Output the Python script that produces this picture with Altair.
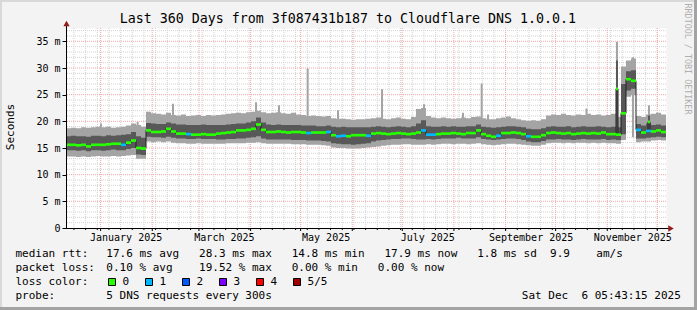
import altair as alt
import pandas as pd

# ---------------- data (3-day bins, 360 days ending Sat Dec 6 2025 05:43:15) ----------------
light_lo = [
    13.4, 13.4, 13.3, 13.4, 13.3, 13.4, 13.5, 13.4, 13.4, 13.5,
    13.4, 13.5, 13.6, 13.7, 13.0, 13.0, 16.2, 16.1, 16.2, 16.1,
    16.2, 16.0, 15.9, 15.9, 15.8, 15.8, 15.9, 15.8, 15.8, 15.8,
    15.8, 15.8, 15.9, 15.9, 15.9, 15.9, 16.0, 16.0, 16.1, 15.9,
    15.8, 15.8, 15.8, 15.8, 15.8, 15.7, 15.7, 15.7, 15.6, 15.6,
    15.6, 15.5, 15.4, 15.1, 15.0, 15.0, 14.9, 14.9, 14.9, 15.0,
    15.1, 15.2, 15.3, 15.4, 15.5, 15.6, 15.6, 15.7, 15.7, 15.6,
    15.6, 15.6, 15.7, 15.6, 15.7, 15.8, 15.8, 15.7, 15.8, 15.8,
    15.7, 15.8, 15.9, 15.7, 15.6, 15.5, 15.6, 15.7, 15.8, 15.8,
    15.7, 15.6, 15.5, 15.4, 15.4, 15.6, 15.9, 16.0, 16.0, 15.9,
    16.0, 15.9, 16.0, 16.0, 15.9, 16.0, 15.9, 16.0, 15.9, 15.9,
    15.8, 16.5, 24.6, 24.9, 16.1, 16.2, 16.2, 16.4, 16.5, 16.4,
]
dark_lo = [
    14.6, 14.6, 14.5, 14.6, 14.4, 14.6, 14.6, 14.5, 14.6, 14.7,
    14.6, 14.6, 14.8, 15.0, 13.8, 13.7, 17.1, 17.0, 17.0, 16.9,
    17.1, 16.9, 16.8, 16.8, 16.7, 16.7, 16.8, 16.7, 16.7, 16.7,
    16.6, 16.6, 16.7, 16.7, 16.8, 16.8, 16.9, 17.0, 17.2, 16.8,
    16.6, 16.6, 16.6, 16.6, 16.6, 16.5, 16.5, 16.5, 16.4, 16.4,
    16.4, 16.3, 16.2, 15.9, 15.8, 15.7, 15.7, 15.6, 15.7, 15.8,
    15.9, 16.2, 16.4, 16.5, 16.6, 16.7, 16.7, 16.8, 16.8, 16.7,
    16.6, 16.6, 16.7, 16.6, 16.7, 16.8, 16.8, 16.8, 16.9, 16.8,
    16.8, 16.8, 17.0, 16.7, 16.6, 16.5, 16.6, 16.7, 16.8, 16.8,
    16.7, 16.5, 16.2, 16.1, 16.1, 16.3, 16.6, 16.6, 16.7, 16.6,
    16.6, 16.5, 16.6, 16.7, 16.6, 16.6, 16.6, 16.7, 16.5, 16.6,
    16.5, 17.6, 25.8, 26.1, 16.8, 16.8, 16.9, 17.0, 17.1, 17.0,
]
median = [
    15.6, 15.6, 15.5, 15.6, 15.3, 15.6, 15.6, 15.6, 15.7, 15.8,
    15.8, 15.6, 16.0, 16.4, 15.0, 14.9, 18.3, 18.0, 18.0, 18.1,
    18.6, 18.1, 17.7, 17.7, 17.6, 17.5, 17.5, 17.6, 17.5, 17.5,
    17.7, 17.8, 17.9, 18.0, 18.3, 18.3, 18.4, 18.6, 19.4, 18.4,
    18.0, 18.0, 18.1, 18.0, 17.9, 18.0, 18.0, 17.9, 17.8, 17.9,
    17.9, 17.9, 18.0, 17.4, 17.2, 17.3, 17.2, 17.4, 17.4, 17.4,
    17.3, 17.7, 17.8, 17.7, 17.6, 17.7, 17.8, 17.7, 17.6, 17.7,
    17.9, 18.3, 17.5, 17.5, 17.6, 17.7, 17.7, 17.8, 17.7, 17.6,
    17.8, 17.8, 18.3, 17.6, 17.3, 17.1, 17.3, 17.8, 17.8, 17.9,
    17.8, 17.6, 17.2, 17.1, 17.1, 17.4, 17.8, 17.9, 17.8, 17.7,
    17.8, 17.6, 17.7, 17.8, 17.7, 17.8, 17.7, 17.9, 17.6, 17.6,
    17.5, 21.5, 27.9, 27.6, 18.4, 17.9, 18.2, 18.1, 18.3, 18.0,
]
dark_hi = [
    17.2, 17.3, 17.2, 17.2, 17.1, 17.3, 17.3, 17.2, 17.4, 17.3,
    17.4, 17.5, 17.6, 18.0, 17.2, 16.9, 19.7, 19.6, 19.5, 19.5,
    19.8, 19.6, 19.4, 19.4, 19.3, 19.3, 19.3, 19.4, 19.3, 19.3,
    19.3, 19.3, 19.4, 19.5, 19.6, 19.6, 19.8, 20.0, 20.7, 19.8,
    19.4, 19.3, 19.4, 19.3, 19.3, 19.3, 19.3, 19.2, 19.2, 19.2,
    19.1, 19.1, 19.2, 19.0, 18.9, 19.0, 18.9, 18.9, 18.9, 18.9,
    18.9, 19.0, 19.1, 19.0, 18.9, 19.0, 19.1, 19.0, 18.9, 19.1,
    19.6, 20.2, 19.1, 19.0, 19.0, 19.1, 19.0, 19.1, 19.0, 19.0,
    19.1, 19.1, 19.4, 19.0, 18.9, 18.8, 18.9, 19.0, 19.1, 19.1,
    19.0, 18.9, 18.6, 18.5, 18.5, 18.7, 19.0, 19.1, 19.0, 19.0,
    19.1, 18.9, 19.0, 19.1, 19.0, 19.0, 19.1, 19.0, 18.9, 19.0,
    18.9, 27.0, 29.4, 29.6, 19.5, 19.2, 19.6, 19.3, 19.4, 19.2,
]
light_hi = [
    18.7, 18.8, 18.7, 18.9, 18.8, 18.9, 19.0, 18.9, 19.0, 18.8,
    18.9, 19.0, 19.2, 19.6, 19.3, 19.0, 21.8, 21.5, 21.4, 21.3,
    21.6, 21.2, 21.1, 21.3, 21.0, 21.1, 21.2, 21.0, 21.2, 21.1,
    21.2, 21.3, 21.4, 21.5, 21.6, 21.5, 21.7, 21.8, 22.0, 21.7,
    21.5, 21.6, 21.7, 21.5, 21.4, 21.6, 21.3, 21.2, 21.0, 21.1,
    21.0, 20.9, 21.0, 20.6, 20.5, 20.5, 20.4, 20.3, 20.4, 20.4,
    20.5, 20.6, 20.7, 20.5, 20.4, 20.6, 20.7, 20.5, 20.4, 20.8,
    22.3, 22.5, 21.0, 20.7, 20.6, 20.7, 20.6, 20.5, 20.6, 20.7,
    20.6, 20.8, 20.9, 20.6, 20.4, 20.4, 20.6, 20.7, 20.9, 20.6,
    20.4, 20.2, 20.1, 20.2, 20.1, 20.4, 21.1, 21.3, 21.2, 21.4,
    21.2, 21.1, 21.3, 21.2, 21.4, 21.2, 21.3, 21.1, 21.2, 21.4,
    20.8, 30.3, 31.4, 31.8, 21.0, 20.8, 21.3, 21.4, 21.6, 21.3,
]
loss = [
    0, 0, 0, 0, 0, 0, 0, 0, 0, 0,
    0, 1, 0, 0, 0, 0, 0, 0, 0, 0,
    0, 0, 0, 0, 1, 0, 0, 0, 0, 0,
    0, 0, 0, 0, 0, 0, 0, 0, 0, 0,
    0, 0, 0, 0, 0, 0, 0, 0, 1, 0,
    0, 0, 1, 0, 1, 1, 0, 0, 0, 0,
    1, 0, 0, 0, 0, 0, 0, 0, 0, 0,
    0, 1, 1, 1, 0, 0, 0, 0, 0, 0,
    0, 0, 0, 0, 0, 0, 1, 0, 0, 0,
    0, 0, 1, 0, 0, 0, 0, 0, 0, 0,
    0, 0, 0, 0, 0, 0, 0, 0, 0, 0,
    0, 0, 0, 0, 1, 0, 1, 0, 0, 0,
]

# narrow outlier peaks (day offset from start, top in ms)
spike_day = [20.4, 42.4, 63.6, 113.4, 127.2, 144.4, 162.6, 189.0, 214.2, 237.6,
             248.8, 252.6, 311.7, 330.0, 339.6, 349.2]
spike_top = [19.6, 19.9, 23.3, 23.6, 23.0, 29.9, 22.1, 26.0, 23.2, 21.6,
             27.1, 21.3, 22.4, 34.9, 32.0, 23.0]
dspike_day = [330.0, 349.2]
dspike_lo = [16.8, 17.0]
dspike_hi = [31.4, 21.1]
dspike_med = [26.1, 19.9]

loss_labels = ["0", "1", "2", "3", "4", "5/5"]
loss_colors = ["#26ff00", "#00b8ff", "#0059ff", "#7e00ff", "#ff0000", "#a10000"]

title_text = "Last 360 Days from 3f087431b187 to Cloudflare DNS 1.0.0.1"
rtt_text = "17.6 ms avg   28.3 ms max   14.8 ms min   17.9 ms now   1.8 ms sd  9.9    am/s"
loss_text = "0.10 % avg    19.52 % max   0.00 % min   0.00 % now"
probe_text = "5 DNS requests every 300s"
date_text = "Sat Dec  6 05:43:15 2025"

# ---------------- helpers ----------------
MONO = "DejaVu Sans Mono"
START = pd.Timestamp("2024-12-11 05:43:15")
DAY_MS = 86400000
START_MS = int(START.value // 10**6)
BIN = 3
SPIKE_W = 1.2


def t(day):
    return START_MS + day * DAY_MS


def ms(s):
    return int(pd.Timestamp(s).value // 10**6)


n = len(median)
band = pd.DataFrame({
    "d": [t(BIN * i) for i in range(n)] + [t(BIN * n)],
    "lo": light_lo + [light_lo[-1]],
    "dlo": dark_lo + [dark_lo[-1]],
    "dhi": dark_hi + [dark_hi[-1]],
    "hi": light_hi + [light_hi[-1]],
})

bars = pd.DataFrame({
    "d": [t(BIN * i) for i in range(n)] + [t(d) for d in dspike_day],
    "d2": [t(BIN * (i + 1)) for i in range(n)] + [t(d + SPIKE_W) for d in dspike_day],
    "m1": [m - 0.25 for m in median] + [m - 0.25 for m in dspike_med],
    "m2": [m + 0.25 for m in median] + [m + 0.25 for m in dspike_med],
    "c": [loss_colors[l] for l in loss] + [loss_colors[0]] * len(dspike_day),
})

pts = {BIN * i: median[i] for i in range(n)}
pts[BIN * n] = median[-1]
for d, m in zip(dspike_day, dspike_med):
    b = int(d // BIN)
    pts[d] = m
    pts[d + SPIKE_W] = median[b]
med_line = pd.DataFrame({"d": [t(k) for k in sorted(pts)], "v": [pts[k] for k in sorted(pts)]})

spikes = pd.DataFrame({
    "d": [t(d) for d in spike_day],
    "d2": [t(d + SPIKE_W) for d in spike_day],
    "lo": [17.0] * len(spike_day),
    "hi": spike_top,
})
dspikes = pd.DataFrame({
    "d": [t(d) for d in dspike_day],
    "d2": [t(d + SPIKE_W) for d in dspike_day],
    "lo": dspike_lo,
    "hi": dspike_hi,
})

month_ms = [ms(f"2025-{m:02d}-01") for m in range(1, 13)]
week_ms = [int(x.value // 10**6) for x in pd.date_range("2024-12-16", "2025-12-01", freq="7D")]
label_ms = [ms(f"2025-{m:02d}-16") for m in (1, 3, 5, 7, 9, 11)]

xs = alt.Scale(type="utc", domain=[t(0), t(360)], nice=False)
ys = alt.Scale(domain=[0, 37.5], nice=False, zero=False)
xaxis = alt.Axis(values=label_ms, labelExpr="utcFormat(datum.value, '%B %Y')", ticks=False, domain=False,
                 grid=False, labelFont=MONO, labelFontSize=10, labelColor="black",
                 labelPadding=4, labelFlush=False, labelOverlap=False, title=None)
yaxis = alt.Axis(values=[0, 5, 10, 15, 20, 25, 30, 35],
                 labelExpr="datum.value == 0 ? '0' : datum.value + ' m'",
                 tickSize=4, tickColor="black", domain=False, grid=False, labelFont=MONO,
                 labelFontSize=10, labelColor="black", labelPadding=2, title=None,
                 labelOverlap=False, labelFlush=False)


def X(f):
    return alt.X(f, type="temporal", scale=xs, axis=xaxis)


def Y(f):
    return alt.Y(f, type="quantitative", scale=ys, axis=yaxis)


ONE = pd.DataFrame({"k": [0]})


def label(text, x, y, size=11, align="left", angle=0, color="black"):
    df = pd.DataFrame({"t": [text.replace(" ", "\u00a0")]})
    return alt.Chart(df).mark_text(align=align, baseline="middle", font=MONO, fontSize=size,
                                   angle=angle, color=color).encode(
        text="t:N", x=alt.value(x), y=alt.value(y))


def box(x, x2, y, y2, color, stroke=None):
    kw = dict(color=color)
    if stroke:
        kw.update(stroke=stroke, strokeWidth=1)
    return alt.Chart(ONE).mark_rect(**kw).encode(
        x=alt.value(x), x2=alt.value(x2), y=alt.value(y), y2=alt.value(y2))


GRID = "#D2D2D2"
MGRID = "#F2A7A7"
layers = []
# grid
layers.append(alt.Chart(pd.DataFrame({"v": [v for v in range(1, 38) if v % 5]}))
              .mark_rule(color=GRID, strokeDash=[1, 1], strokeWidth=1).encode(y=Y("v")))
layers.append(alt.Chart(pd.DataFrame({"d": week_ms}))
              .mark_rule(color=GRID, strokeDash=[1, 1], strokeWidth=1).encode(x=X("d")))
layers.append(alt.Chart(pd.DataFrame({"v": [5, 10, 15, 20, 25, 30, 35]}))
              .mark_rule(color=MGRID, strokeDash=[1, 1], strokeWidth=1).encode(y=Y("v")))
layers.append(alt.Chart(pd.DataFrame({"d": month_ms}))
              .mark_rule(color=MGRID, strokeDash=[1, 1], strokeWidth=1).encode(x=X("d")))
# smoke
layers.append(alt.Chart(band).mark_area(interpolate="step-after", color="#A4A4A4")
              .encode(x=X("d"), y=Y("lo"), y2="hi"))
layers.append(alt.Chart(spikes).mark_rect(color="#A4A4A4")
              .encode(x=X("d"), x2="d2", y=Y("lo"), y2="hi"))
layers.append(alt.Chart(band).mark_area(interpolate="step-after", color="#585858")
              .encode(x=X("d"), y=Y("dlo"), y2="dhi"))
layers.append(alt.Chart(dspikes).mark_rect(color="#585858")
              .encode(x=X("d"), x2="d2", y=Y("lo"), y2="hi"))
# median
layers.append(alt.Chart(med_line).mark_line(interpolate="step-after", color="#202020", strokeWidth=1)
              .encode(x=X("d"), y=Y("v")))
layers.append(alt.Chart(bars).mark_rect()
              .encode(x=X("d"), x2="d2", y=Y("m1"), y2="m2", color=alt.Color("c:N", scale=None)))
# axis ticks
layers.append(alt.Chart(pd.DataFrame({"d": week_ms})).mark_rule(color="black")
              .encode(x=X("d"), y=alt.value(200), y2=alt.value(202)))
layers.append(alt.Chart(pd.DataFrame({"d": month_ms})).mark_rule(color="black")
              .encode(x=X("d"), y=alt.value(200), y2=alt.value(203)))
# axis lines + arrows
layers.append(alt.Chart(ONE).mark_rule(color="black", strokeWidth=1)
              .encode(x=alt.value(0.5), y=alt.value(200.5), y2=alt.value(-4)))
layers.append(alt.Chart(ONE).mark_rule(color="black", strokeWidth=1)
              .encode(y=alt.value(200.5), x=alt.value(0), x2=alt.value(604)))
layers.append(alt.Chart(ONE).mark_point(shape="triangle-up", filled=True, size=40, color="#951C1C", opacity=1)
              .encode(x=alt.value(0.5), y=alt.value(-4.5)))
layers.append(alt.Chart(ONE).mark_point(shape="triangle-right", filled=True, size=40, color="#951C1C", opacity=1)
              .encode(x=alt.value(605), y=alt.value(200.5)))
# texts
layers.append(label(title_text, 281.9, -8.7, size=13.3, align="center"))
layers.append(label("Seconds", -55, 99, size=11, align="center", angle=270))
layers.append(label("RRDTOOL / TOBI OETIKER", 621.5, 31, size=8.4, align="center", angle=90, color="#AFAFAF"))
layers.append(label("median rtt:", -50.6, 226.3))
layers.append(label(rtt_text, 40.3, 226.3))
layers.append(label("packet loss:", -50.6, 240.3))
layers.append(label(loss_text, 40.3, 240.3))
layers.append(label("loss color:", -50.6, 254.3))
for i, (lab, col) in enumerate(zip(loss_labels, loss_colors)):
    layers.append(box(42.5 + 37 * i, 49.5 + 37 * i, 250.5, 257.5, col, stroke="black"))
    layers.append(label(lab, 56.6 + 37 * i, 254.3))
layers.append(label("probe:", -50.6, 268))
layers.append(label(probe_text, 40.3, 268))
layers.append(label(date_text, 614.8, 268, align="right"))
# frame
layers.append(box(-66, 631, -28, -26, "#D9D9D9"))
layers.append(box(-66, -64, -28, 282, "#D9D9D9"))
layers.append(box(628, 631, -28, 282, "#A3A3A3"))
layers.append(box(-66, 631, 279, 282, "#A3A3A3"))

chart = alt.layer(*layers).properties(
    width=600, height=200, background="#F3F3F3",
    padding={"left": 66, "top": 28, "right": 31, "bottom": 82},
    autosize=alt.AutoSizeParams(type="none"),
).configure_view(fill="white", strokeOpacity=0)

chart.save("out.html", embed_options={"renderer": "svg", "actions": False})
